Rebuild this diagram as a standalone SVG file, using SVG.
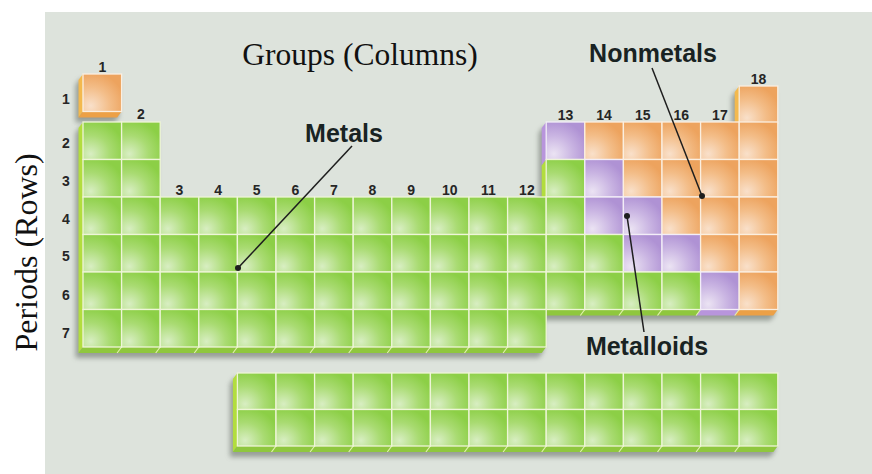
<svg xmlns="http://www.w3.org/2000/svg" xmlns:xlink="http://www.w3.org/1999/xlink" width="872" height="474" viewBox="0 0 872 474">
  <defs>
    <radialGradient id="gradGreen" cx="0.2" cy="0.85" r="0.9">
      <stop offset="0" stop-color="#d8eec2"/>
      <stop offset="0.55" stop-color="#a9db72"/>
      <stop offset="1" stop-color="#8ccf46"/>
    </radialGradient>
    <radialGradient id="gradOrange" cx="0.2" cy="0.85" r="0.9">
      <stop offset="0" stop-color="#f9e0ca"/>
      <stop offset="0.55" stop-color="#f3bd88"/>
      <stop offset="1" stop-color="#eda35e"/>
    </radialGradient>
    <radialGradient id="gradPurple" cx="0.2" cy="0.85" r="0.9">
      <stop offset="0" stop-color="#ebe3f3"/>
      <stop offset="0.55" stop-color="#c9b4e2"/>
      <stop offset="1" stop-color="#af92d4"/>
    </radialGradient>
    <filter id="soft" x="-10%" y="-10%" width="120%" height="130%">
      <feGaussianBlur stdDeviation="2.6"/>
    </filter>
    <!-- element tiles -->
    <rect id="g" width="38.6" height="37.5" fill="url(#gradGreen)" stroke="#eef5d8" stroke-width="1.3"/>
    <rect id="o" width="38.6" height="37.5" fill="url(#gradOrange)" stroke="#fbefe0" stroke-width="1.3"/>
    <rect id="p" width="38.6" height="37.5" fill="url(#gradPurple)" stroke="#f3eef8" stroke-width="1.3"/>
    <rect id="gf" width="38.6" height="36.5" fill="url(#gradGreen)" stroke="#eef5d8" stroke-width="1.3"/>
  </defs>
  <style>
    .num { font-family: "Liberation Sans", Arial, sans-serif; font-weight: bold; font-size: 14px; fill: #262626; text-anchor: middle; }
    .cat { font-family: "Liberation Sans", Arial, sans-serif; font-weight: bold; font-size: 25px; fill: #192323; text-anchor: middle; }
    .axis { font-family: "Liberation Serif", "Times New Roman", serif; fill: #111; text-anchor: middle; }
    .shadow { fill: #5f665f; opacity: 0.55; filter: url(#soft); }
    .lipG { fill: #b2dd3e; }
    .baseG { fill: #8fc73e; }
    .lipO { fill: #f3b94e; }
    .baseO { fill: #eca046; }
    .lipP { fill: #b895dc; }
    .seam { stroke: #e2f1b0; stroke-width: 1.2; }
    .pointer { stroke: #1e1e1e; stroke-width: 1.5; fill: none; }
    .dot { fill: #1e1e1e; }
  </style>

  <!-- backdrop -->
  <rect x="45" y="12" width="827" height="462" fill="#dde3dc"/>

  <!-- axis titles -->
  <text class="axis" x="360" y="65" font-size="31.5">Groups (Columns)</text>
  <text class="axis" font-size="32" transform="translate(37,252.5) rotate(-90)">Periods (Rows)</text>

  <!-- drop shadows -->
  <g id="shadows">
    <polygon class="shadow" transform="translate(-3,5)" points="83,122 160.2,122 160.2,197 541.7,197 541.7,128 546.2,122 734.7,122 734.7,92 739.2,86 777.8,86 777.8,309.5 773.3,315.5 546.2,315.5 546.2,347 541.7,353 78.5,353 78.5,128"/>
    <polygon class="shadow" transform="translate(-3,5)" points="83,74 122,74 122,111.5 117.5,117.5 78.5,117.5 78.5,80"/>
    <polygon class="shadow" transform="translate(-3,5)" points="237.4,373 777.8,373 777.8,446 773.3,452 232.9,452 232.9,379"/>
  </g>

  <!-- hydrogen cube -->
  <g id="hydrogen">
    <polygon class="lipO" points="83,74 83,111.5 78.5,117.5 78.5,80"/>
    <polygon class="baseO" points="83,111.5 121.6,111.5 117.1,117.5 78.5,117.5"/>
    <use href="#o" x="83" y="74"/>
  </g>

  <!-- main table slab -->
  <g id="main-table">
    <!-- side faces -->
    <polygon class="lipG" points="83,122 83,347 78.5,353 78.5,128"/>
    <polygon class="baseG" points="83,347 546.2,347 541.7,353 78.5,353"/>
    <g class="seam">
      <line x1="121.6" y1="347" x2="117.1" y2="353"/>
      <line x1="160.2" y1="347" x2="155.7" y2="353"/>
      <line x1="198.8" y1="347" x2="194.3" y2="353"/>
      <line x1="237.4" y1="347" x2="232.9" y2="353"/>
      <line x1="276" y1="347" x2="271.5" y2="353"/>
      <line x1="314.6" y1="347" x2="310.1" y2="353"/>
      <line x1="353.2" y1="347" x2="348.7" y2="353"/>
      <line x1="391.8" y1="347" x2="387.3" y2="353"/>
      <line x1="430.4" y1="347" x2="425.9" y2="353"/>
      <line x1="469" y1="347" x2="464.5" y2="353"/>
      <line x1="507.6" y1="347" x2="503.1" y2="353"/>
    </g>
    <polygon class="lipP" points="546.2,122 546.2,159.5 541.7,165.5 541.7,128"/>
    <polygon class="lipG" points="546.2,159.5 546.2,197 541.7,203 541.7,165.5"/>
    <polygon class="lipO" points="739.2,86 739.2,122 734.7,128 734.7,92"/>
    <polygon class="baseG" points="546.2,309.5 700.6,309.5 696.1,315.5 541.7,315.5"/>
    <polygon class="lipP" points="700.6,309.5 739.2,309.5 734.7,315.5 696.1,315.5"/>
    <polygon class="baseO" points="739.2,309.5 777.8,309.5 773.3,315.5 734.7,315.5"/>
    <g class="seam">
      <line x1="584.8" y1="309.5" x2="580.3" y2="315.5"/>
      <line x1="623.4" y1="309.5" x2="618.9" y2="315.5"/>
      <line x1="662" y1="309.5" x2="657.5" y2="315.5"/>
      <line x1="700.6" y1="309.5" x2="696.1" y2="315.5"/>
      <line x1="739.2" y1="309.5" x2="734.7" y2="315.5"/>
    </g>

    <!-- period 1: helium -->
    <use href="#o" x="739.2" y="86"/>
    <!-- period 2 -->
    <use href="#g" x="83" y="122"/><use href="#g" x="121.6" y="122"/>
    <use href="#p" x="546.2" y="122"/>
    <use href="#o" x="584.8" y="122"/><use href="#o" x="623.4" y="122"/><use href="#o" x="662" y="122"/><use href="#o" x="700.6" y="122"/><use href="#o" x="739.2" y="122"/>
    <!-- period 3 -->
    <use href="#g" x="83" y="159.5"/><use href="#g" x="121.6" y="159.5"/><use href="#g" x="546.2" y="159.5"/>
    <use href="#p" x="584.8" y="159.5"/>
    <use href="#o" x="623.4" y="159.5"/><use href="#o" x="662" y="159.5"/><use href="#o" x="700.6" y="159.5"/><use href="#o" x="739.2" y="159.5"/>
    <!-- period 4 -->
    <use href="#g" x="83" y="197"/><use href="#g" x="121.6" y="197"/><use href="#g" x="160.2" y="197"/><use href="#g" x="198.8" y="197"/><use href="#g" x="237.4" y="197"/><use href="#g" x="276" y="197"/><use href="#g" x="314.6" y="197"/><use href="#g" x="353.2" y="197"/><use href="#g" x="391.8" y="197"/><use href="#g" x="430.4" y="197"/><use href="#g" x="469" y="197"/><use href="#g" x="507.6" y="197"/><use href="#g" x="546.2" y="197"/>
    <use href="#p" x="584.8" y="197"/><use href="#p" x="623.4" y="197"/>
    <use href="#o" x="662" y="197"/><use href="#o" x="700.6" y="197"/><use href="#o" x="739.2" y="197"/>
    <!-- period 5 -->
    <use href="#g" x="83" y="234.5"/><use href="#g" x="121.6" y="234.5"/><use href="#g" x="160.2" y="234.5"/><use href="#g" x="198.8" y="234.5"/><use href="#g" x="237.4" y="234.5"/><use href="#g" x="276" y="234.5"/><use href="#g" x="314.6" y="234.5"/><use href="#g" x="353.2" y="234.5"/><use href="#g" x="391.8" y="234.5"/><use href="#g" x="430.4" y="234.5"/><use href="#g" x="469" y="234.5"/><use href="#g" x="507.6" y="234.5"/><use href="#g" x="546.2" y="234.5"/><use href="#g" x="584.8" y="234.5"/>
    <use href="#p" x="623.4" y="234.5"/><use href="#p" x="662" y="234.5"/>
    <use href="#o" x="700.6" y="234.5"/><use href="#o" x="739.2" y="234.5"/>
    <!-- period 6 -->
    <use href="#g" x="83" y="272"/><use href="#g" x="121.6" y="272"/><use href="#g" x="160.2" y="272"/><use href="#g" x="198.8" y="272"/><use href="#g" x="237.4" y="272"/><use href="#g" x="276" y="272"/><use href="#g" x="314.6" y="272"/><use href="#g" x="353.2" y="272"/><use href="#g" x="391.8" y="272"/><use href="#g" x="430.4" y="272"/><use href="#g" x="469" y="272"/><use href="#g" x="507.6" y="272"/><use href="#g" x="546.2" y="272"/><use href="#g" x="584.8" y="272"/><use href="#g" x="623.4" y="272"/><use href="#g" x="662" y="272"/>
    <use href="#p" x="700.6" y="272"/>
    <use href="#o" x="739.2" y="272"/>
    <!-- period 7 -->
    <use href="#g" x="83" y="309.5"/><use href="#g" x="121.6" y="309.5"/><use href="#g" x="160.2" y="309.5"/><use href="#g" x="198.8" y="309.5"/><use href="#g" x="237.4" y="309.5"/><use href="#g" x="276" y="309.5"/><use href="#g" x="314.6" y="309.5"/><use href="#g" x="353.2" y="309.5"/><use href="#g" x="391.8" y="309.5"/><use href="#g" x="430.4" y="309.5"/><use href="#g" x="469" y="309.5"/><use href="#g" x="507.6" y="309.5"/>
  </g>

  <!-- lanthanide / actinide strip -->
  <g id="f-block">
    <polygon class="lipG" points="237.4,373 237.4,446 232.9,452 232.9,379"/>
    <polygon class="baseG" points="237.4,446 777.8,446 773.3,452 232.9,452"/>
    <g class="seam">
      <line x1="276" y1="446" x2="271.5" y2="452"/>
      <line x1="314.6" y1="446" x2="310.1" y2="452"/>
      <line x1="353.2" y1="446" x2="348.7" y2="452"/>
      <line x1="391.8" y1="446" x2="387.3" y2="452"/>
      <line x1="430.4" y1="446" x2="425.9" y2="452"/>
      <line x1="469" y1="446" x2="464.5" y2="452"/>
      <line x1="507.6" y1="446" x2="503.1" y2="452"/>
      <line x1="546.2" y1="446" x2="541.7" y2="452"/>
      <line x1="584.8" y1="446" x2="580.3" y2="452"/>
      <line x1="623.4" y1="446" x2="618.9" y2="452"/>
      <line x1="662" y1="446" x2="657.5" y2="452"/>
      <line x1="700.6" y1="446" x2="696.1" y2="452"/>
      <line x1="739.2" y1="446" x2="734.7" y2="452"/>
    </g>
    <use href="#gf" x="237.4" y="373"/><use href="#gf" x="276" y="373"/><use href="#gf" x="314.6" y="373"/><use href="#gf" x="353.2" y="373"/><use href="#gf" x="391.8" y="373"/><use href="#gf" x="430.4" y="373"/><use href="#gf" x="469" y="373"/><use href="#gf" x="507.6" y="373"/><use href="#gf" x="546.2" y="373"/><use href="#gf" x="584.8" y="373"/><use href="#gf" x="623.4" y="373"/><use href="#gf" x="662" y="373"/><use href="#gf" x="700.6" y="373"/><use href="#gf" x="739.2" y="373"/>
    <use href="#gf" x="237.4" y="409.5"/><use href="#gf" x="276" y="409.5"/><use href="#gf" x="314.6" y="409.5"/><use href="#gf" x="353.2" y="409.5"/><use href="#gf" x="391.8" y="409.5"/><use href="#gf" x="430.4" y="409.5"/><use href="#gf" x="469" y="409.5"/><use href="#gf" x="507.6" y="409.5"/><use href="#gf" x="546.2" y="409.5"/><use href="#gf" x="584.8" y="409.5"/><use href="#gf" x="623.4" y="409.5"/><use href="#gf" x="662" y="409.5"/><use href="#gf" x="700.6" y="409.5"/><use href="#gf" x="739.2" y="409.5"/>
  </g>

  <!-- group numbers -->
  <g id="group-numbers">
    <text class="num" x="102.3" y="72">1</text>
    <text class="num" x="140.9" y="119">2</text>
    <text class="num" x="179.5" y="195">3</text>
    <text class="num" x="218.1" y="195">4</text>
    <text class="num" x="256.7" y="195">5</text>
    <text class="num" x="295.3" y="195">6</text>
    <text class="num" x="333.9" y="195">7</text>
    <text class="num" x="372.5" y="195">8</text>
    <text class="num" x="411.1" y="195">9</text>
    <text class="num" x="449.7" y="195">10</text>
    <text class="num" x="488.3" y="195">11</text>
    <text class="num" x="526.9" y="195">12</text>
    <text class="num" x="565.5" y="120">13</text>
    <text class="num" x="604.1" y="120">14</text>
    <text class="num" x="642.7" y="120">15</text>
    <text class="num" x="681.3" y="120">16</text>
    <text class="num" x="719.9" y="120">17</text>
    <text class="num" x="758.5" y="84">18</text>
  </g>

  <!-- period numbers -->
  <g id="period-numbers">
    <text class="num" x="66" y="104">1</text>
    <text class="num" x="66" y="148">2</text>
    <text class="num" x="66" y="186">3</text>
    <text class="num" x="66" y="224">4</text>
    <text class="num" x="66" y="261">5</text>
    <text class="num" x="66" y="300">6</text>
    <text class="num" x="66" y="338">7</text>
  </g>

  <!-- category labels -->
  <g id="label-metals"><text class="cat" x="344" y="142">Metals</text></g>
  <g id="label-nonmetals"><text class="cat" x="653" y="62">Nonmetals</text></g>
  <g id="label-metalloids"><text class="cat" x="647" y="355">Metalloids</text></g>

  <!-- leader lines -->
  <g id="connectors">
    <line class="pointer" x1="352" y1="146" x2="238" y2="268"/>
    <circle class="dot" cx="238" cy="268" r="3"/>
    <line class="pointer" x1="652" y1="68" x2="702" y2="196"/>
    <circle class="dot" cx="702" cy="196" r="3"/>
    <line class="pointer" x1="627" y1="216" x2="644" y2="332"/>
    <circle class="dot" cx="627" cy="216" r="3"/>
  </g>
</svg>
